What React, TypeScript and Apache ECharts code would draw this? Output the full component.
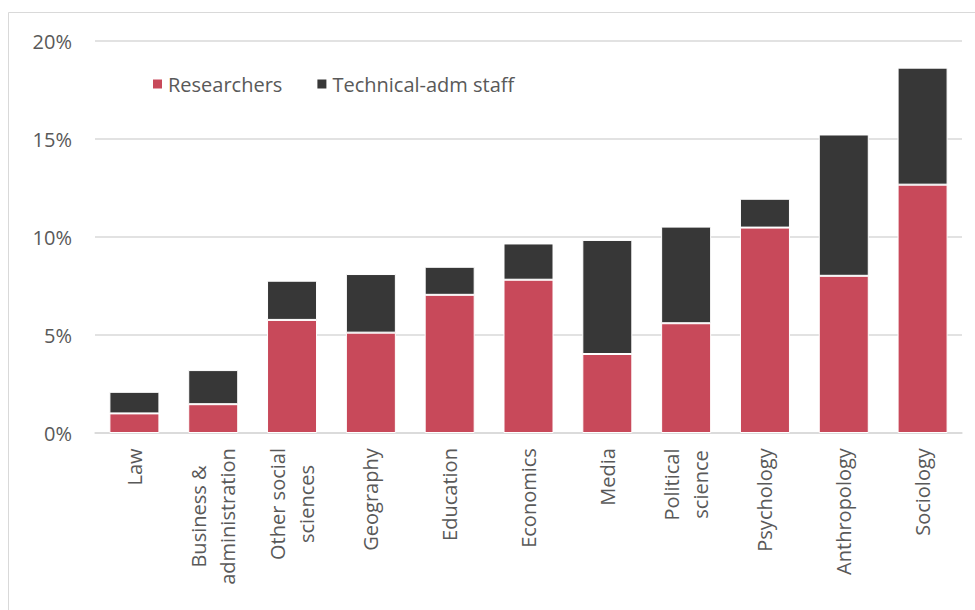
import React, { useEffect, useRef } from "react";
import * as echarts from "echarts";

const categories = [
  "Law",
  "Business &\nadministration",
  "Other social\nsciences",
  "Geography",
  "Education",
  "Economics",
  "Media",
  "Political\nscience",
  "Psychology",
  "Anthropology",
  "Sociology",
];
const researchers = [1.0, 1.47, 5.77, 5.12, 7.05, 7.82, 4.03, 5.6, 10.48, 8.02, 12.67];
const technicalAdm = [1.1, 1.74, 2.0, 2.99, 1.43, 1.85, 5.82, 4.93, 1.47, 7.21, 5.97];
const yTicks = [0, 5, 10, 15, 20];

const FONT = '"Open Sans", "Noto Sans", sans-serif';
const FONT_SIZE = 20;
const TEXT = "#595959";

function measure(text: string): number {
  const c = document.createElement("canvas").getContext("2d");
  if (!c) return text.length * 10;
  c.font = `${FONT_SIZE}px "Open Sans"`;
  return c.measureText(text).width;
}

export default function App() {
  const ref = useRef<HTMLDivElement>(null);
  useEffect(() => {
    if (!ref.current) return;
    const chart = echarts.init(ref.current, undefined, { renderer: "svg" });

    const rich: Record<string, any> = {};
    categories.forEach((c, i) => {
      const lines = c.split("\n");
      const w = Math.ceil(Math.max(...lines.map(measure)));
      rich["c" + i] = {
        width: w,
        align: "center",
        fontSize: FONT_SIZE,
        fontFamily: FONT,
        color: TEXT,
        lineHeight: 29,
      };
    });

    chart.setOption({
      animation: false,
      backgroundColor: "#fff",
      textStyle: { fontFamily: FONT },
      graphic: [
        {
          type: "rect",
          shape: { x: 8.5, y: 12.5, width: 1000, height: 700 },
          style: { fill: "none", stroke: "#D9D9D9", lineWidth: 1 },
          silent: true,
        },
      ],
      legend: {
        left: 146,
        top: 69,
        itemWidth: 11,
        itemHeight: 11,
        itemGap: 33,
        icon: "rect",
        textStyle: { fontSize: FONT_SIZE, color: TEXT, fontFamily: FONT },
        data: ["Researchers", "Technical-adm staff"],
      },
      grid: { left: 95, right: 13, top: 41, bottom: 177, containLabel: false },
      xAxis: {
        type: "category",
        data: categories,
        axisLine: { lineStyle: { color: "#D9D9D9", width: 1.5 } },
        axisTick: { show: false },
        axisLabel: {
          interval: 0,
          rotate: 90,
          margin: 15,
          fontSize: FONT_SIZE,
          color: TEXT,
          fontFamily: FONT,
          lineHeight: 29,
          formatter: (v: string, i: number) =>
            v
              .split("\n")
              .map((l) => `{c${i}|${l}}`)
              .join("\n"),
          rich,
        },
      },
      yAxis: {
        type: "value",
        min: yTicks[0],
        max: yTicks[yTicks.length - 1],
        interval: 5,
        axisLine: { show: false },
        axisTick: { show: false },
        splitLine: { lineStyle: { color: "#D9D9D9", width: 1.5 } },
        axisLabel: {
          margin: 23,
          fontSize: FONT_SIZE,
          color: TEXT,
          fontFamily: FONT,
          formatter: "{value}%",
        },
      },
      series: [
        {
          name: "Researchers",
          type: "bar",
          stack: "total",
          barWidth: 50,
          data: researchers,
          itemStyle: { color: "#C8495A", borderColor: "#fff", borderWidth: 1 },
        },
        {
          name: "Technical-adm staff",
          type: "bar",
          stack: "total",
          barWidth: 50,
          data: technicalAdm,
          itemStyle: { color: "#373737", borderColor: "#fff", borderWidth: 1 },
        },
      ],
    });
    return () => chart.dispose();
  }, []);
  return (
    <div
      ref={ref}
      style={{ position: "fixed", left: 0, top: 0, width: 975, height: 610 }}
    />
  );
}
